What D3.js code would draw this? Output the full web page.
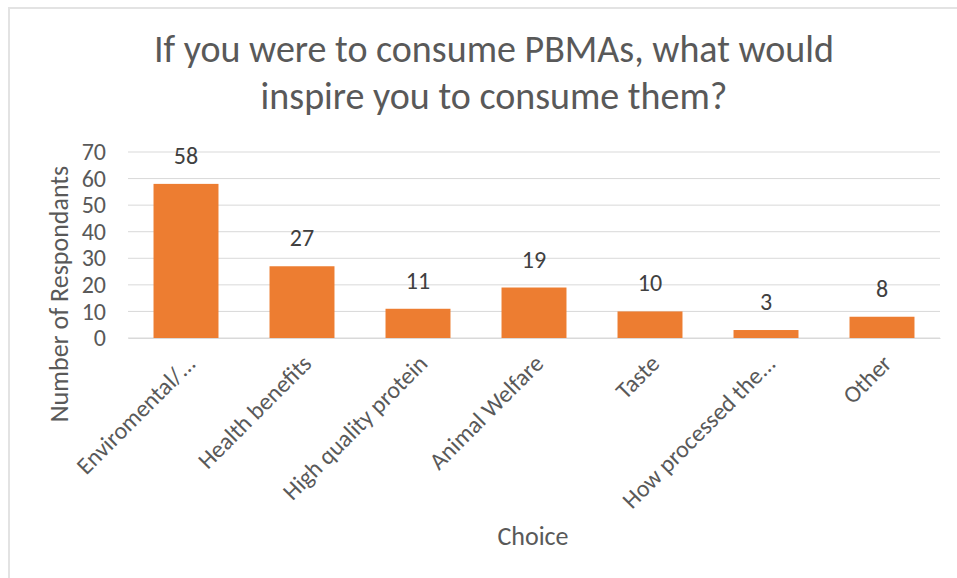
<!DOCTYPE html>
<html>
<head>
<meta charset="utf-8">
<script src="https://cdn.jsdelivr.net/npm/d3@7"></script>
<style>
  body { margin: 0; background: #fff; }
  text { font-family: Carlito, Lato, "Liberation Sans Narrow", sans-serif; }
</style>
</head>
<body>
<div id="chart"></div>
<script>
const categories = ["Enviromental/...", "Health benefits", "High quality protein", "Animal Welfare", "Taste", "How processed the...", "Other"];
const counts = [58, 27, 11, 19, 10, 3, 8];
const yTicks = [0, 10, 20, 30, 40, 50, 60, 70];
const titleLines = ["If you were to consume PBMAs, what would", "inspire you to consume them?"];

const width = 957;
const height = 578;
const margin = { top: 152, right: 17, bottom: 240, left: 128 };
const innerW = width - margin.left - margin.right;
const innerH = height - margin.top - margin.bottom;

const svg = d3.select("#chart")
    .append("svg")
    .attr("width", width)
    .attr("height", height);

// outer border of the chart area
svg.append("path")
    .attr("d", `M9,${height} V8 H${width}`)
    .attr("fill", "none")
    .attr("stroke", "#e3e3e3")
    .attr("stroke-width", 2);

const g = svg.append("g")
    .attr("transform", `translate(${margin.left}, ${margin.top})`);

const x = d3.scaleBand()
    .domain(categories)
    .range([0, innerW])
    .paddingInner(0.44)
    .paddingOuter(0.22);

const y = d3.scaleLinear()
    .domain([0, 70])
    .range([innerH, 0]);

// gridlines
g.selectAll(".grid")
    .data(yTicks)
    .enter()
    .append("line")
    .attr("x1", 0)
    .attr("x2", innerW)
    .attr("y1", d => y(d))
    .attr("y2", d => y(d))
    .attr("stroke", "#d9d9d9")
    .attr("stroke-width", 1);

const yAxis = g.append("g")
    .call(d3.axisLeft(y).tickValues(yTicks).tickSize(0).tickPadding(22));
yAxis.select(".domain").remove();
yAxis.selectAll("text")
    .style("font-size", "24px")
    .style("fill", "#595959");

g.selectAll(".bar")
    .data(counts)
    .enter()
    .append("rect")
    .attr("class", "bar")
    .attr("x", (d, i) => x(categories[i]))
    .attr("y", d => y(d))
    .attr("width", x.bandwidth())
    .attr("height", d => innerH - y(d))
    .attr("fill", "#ed7d31");

g.selectAll(".label")
    .data(counts)
    .enter()
    .append("text")
    .attr("x", (d, i) => x(categories[i]) + x.bandwidth() / 2)
    .attr("y", d => y(d) - 20)
    .attr("text-anchor", "middle")
    .style("font-size", "24px")
    .style("fill", "#404040")
    .text(d => d);

const xAxis = g.append("g")
    .attr("transform", `translate(0, ${innerH})`)
    .call(d3.axisBottom(x).tickSize(0).tickPadding(0));
xAxis.select(".domain").attr("stroke", "#d9d9d9");
xAxis.selectAll("text")
    .attr("x", 0)
    .attr("y", 0)
    .attr("dy", 0)
    .attr("transform", "translate(11, 27) rotate(-45)")
    .attr("text-anchor", "end")
    .style("font-size", "24px")
    .style("fill", "#595959");

svg.selectAll(".title")
    .data(titleLines)
    .enter()
    .append("text")
    .attr("x", 494)
    .attr("y", (d, i) => 62 + i * 47)
    .attr("text-anchor", "middle")
    .style("font-size", "38px")
    .style("fill", "#595959")
    .text(d => d);

svg.append("text")
    .attr("x", 533)
    .attr("y", 545)
    .attr("text-anchor", "middle")
    .style("font-size", "26px")
    .style("fill", "#595959")
    .text("Choice");

svg.append("text")
    .attr("transform", "rotate(-90)")
    .attr("x", -294)
    .attr("y", 68)
    .attr("text-anchor", "middle")
    .style("font-size", "26px")
    .style("fill", "#595959")
    .text("Number of Respondants");
</script>
</body>
</html>
